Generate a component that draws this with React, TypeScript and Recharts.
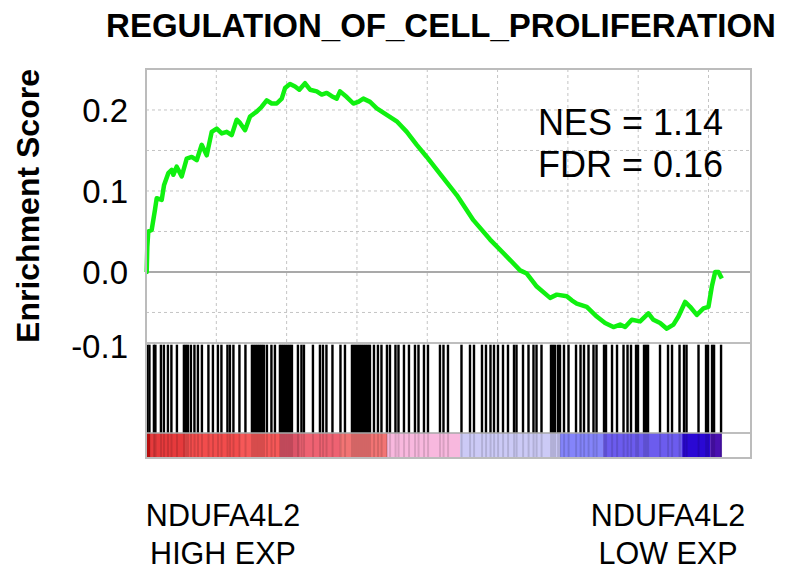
import {
  LineChart,
  Line,
  ComposedChart,
  Bar,
  XAxis,
  YAxis,
  CartesianGrid,
  ReferenceLine,
  ReferenceArea
} from 'recharts';

// running enrichment score (gene rank -> ES)
const esRank = [
  0, 20, 37, 65, 162, 256, 304, 447, 512, 634, 731, 777, 873, 1016, 1158, 1300, 1442, 1585, 1727, 1869,
  2011, 2154, 2296, 2438, 2580, 2674, 2817, 2959, 3149, 3292, 3434, 3576, 3718, 3861, 3955, 4097, 4239,
  4361, 4524, 4666, 4856, 4999, 5141, 5283, 5425, 5519, 5710, 5898, 6040, 6182, 6373, 6564, 6848, 7132,
  7417, 7701, 7986, 8364, 8839, 9312, 9787, 10262, 10640, 10831, 11115, 11494, 11685, 11969, 12111,
  12253, 12538, 12822, 13058, 13295, 13485, 13628, 13818, 14054, 14290, 14433, 14623, 14814, 15002,
  15144, 15335, 15477, 15667, 15856, 15998, 16094, 16189, 16283, 16379
];
const esScore = [
  0, 0.0, 0.031, 0.05, 0.052, 0.077, 0.091, 0.089, 0.107, 0.122, 0.126, 0.12, 0.13, 0.118, 0.14, 0.142,
  0.138, 0.157, 0.144, 0.173, 0.177, 0.171, 0.173, 0.169, 0.188, 0.184, 0.175, 0.192, 0.198, 0.204,
  0.212, 0.208, 0.208, 0.214, 0.227, 0.232, 0.229, 0.225, 0.233, 0.225, 0.223, 0.219, 0.221, 0.217,
  0.214, 0.223, 0.216, 0.208, 0.21, 0.214, 0.21, 0.202, 0.194, 0.186, 0.173, 0.157, 0.142, 0.121,
  0.095, 0.064, 0.04, 0.019, 0.002, -0.002, -0.018, -0.032, -0.028, -0.03, -0.035, -0.039, -0.043,
  -0.055, -0.063, -0.068, -0.065, -0.068, -0.059, -0.061, -0.051, -0.059, -0.063, -0.07, -0.065,
  -0.055, -0.037, -0.043, -0.053, -0.045, -0.043, -0.018, 0.0, 0.0, -0.008
];

// positions of the gene set members in the ranked list
const hitRanks = [
  43, 100, 228, 270, 427, 512, 626, 725, 882, 1081, 1138, 1195, 1280, 1380, 1479, 1593, 1778, 1906,
  2048, 2148, 2319, 2390, 2489, 2660, 2831, 3016, 3073, 3130, 3186, 3243, 3300, 3357, 3442, 3570,
  3670, 3812, 3869, 3926, 3983, 4040, 4097, 4154, 4324, 4424, 4495, 4751, 4950, 5036, 5135, 5306,
  5534, 5662, 5861, 5918, 5975, 6032, 6089, 6145, 6202, 6259, 6316, 6373, 6487, 6600, 6700, 6856,
  6942, 7098, 7184, 7340, 7482, 7653, 7753, 7909, 8023, 8364, 8464, 8592, 8976, 9218, 9332, 9559,
  9673, 9801, 9901, 10014, 10157, 10299, 10470, 10541, 10726, 10882, 11024, 11110, 11252, 11522,
  11579, 11636, 11721, 11778, 11892, 12020, 12234, 12362, 12461, 12589, 12731, 12817, 13030, 13087,
  13258, 13400, 13585, 13699, 13798, 13941, 13997, 14168, 14225, 14282, 14623, 14851, 14965, 15178,
  15306, 15377, 15718, 15932, 15989, 16103, 16160, 16359
];

// ranked metric colour strip
const heatFrom = [0, 114, 1110, 2674, 3812, 4381, 5519, 6856, 8933, 11778, 13002, 15249, 16046];
const heatTo = [114, 1110, 2674, 3812, 4381, 5519, 6856, 8933, 11778, 13002, 15249, 16046, 16379];
const heatColors = [
  '#d01010', '#e63a3c', '#f24c4c', '#f65858', '#dc5468', '#ee6272', '#f27474', '#f8b8de',
  '#cccaf6', '#8484fa', '#6c5cee', '#2a08d4', '#4a10b0'
];

const yTicks = [-0.1, 0, 0.1, 0.2];
const gridY = [-0.05, 0.05, 0.1, 0.15, 0.2];
const gridX = [2000, 4000, 6000, 8000, 10000, 12000, 14000, 16000];

const FONT = '"Liberation Sans", Arial, sans-serif';
const X_DOMAIN: [number, number] = [0, 17180];
const STRIP_TOP = 0.21;

// draw each hit as a thin bar centred on its rank
const HitBar = (props: any) => {
  const { x, y, width, height, fill, fillOpacity } = props;
  const cx = x + width / 2;
  return <rect x={cx - 1.2} y={y} width={2.4} height={height} fill={fill} fillOpacity={fillOpacity} />;
};

export default function App() {
  const esData = esRank.map((r, i) => ({ rank: r, es: esScore[i] }));
  const hitData = hitRanks.map((r) => ({ rank: r, hit: [STRIP_TOP, 0.985] }));

  const renderTick = (props: any) => {
    const { x, y, payload } = props;
    return (
      <text x={x} y={Math.min(y, 346)} dy="0.36em" textAnchor="end" fontSize={33} fill="#000" fontFamily={FONT}>
        {payload.value.toFixed(1)}
      </text>
    );
  };

  return (
    <div style={{ position: 'absolute', left: 0, top: 0, width: 785, height: 571, background: '#fff', fontFamily: FONT }}>
      {/* enrichment score panel */}
      <div style={{ position: 'absolute', left: 0, top: 0 }}>
        <LineChart width={785} height={400} data={esData} margin={{ top: 69, right: 35, bottom: 57, left: 0 }}>
          <CartesianGrid
            stroke="#c4c4c4"
            strokeDasharray="3 3"
            horizontalValues={gridY}
            verticalValues={gridX}
          />
          <XAxis dataKey="rank" type="number" domain={X_DOMAIN} hide />
          <YAxis
            type="number"
            domain={[-0.0877, 0.2506]}
            allowDataOverflow
            ticks={yTicks}
            interval={0}
            width={146}
            axisLine={false}
            tickLine={false}
            tickMargin={12}
            tick={renderTick}
            label={{
              value: 'Enrichment Score',
              angle: -90,
              position: 'center',
              dx: -45,
              style: { fontSize: 32, fontWeight: 'bold', fill: '#000', fontFamily: FONT }
            }}
          />
          <ReferenceLine y={0} stroke="#8c8c8c" strokeWidth={1.5} />
          <Line
            type="linear"
            dataKey="es"
            stroke="#10f010"
            strokeWidth={4.5}
            strokeLinejoin="round"
            dot={false}
            isAnimationActive={false}
          />
        </LineChart>
      </div>

      {/* hits barcode + ranked list colour strip */}
      <div style={{ position: 'absolute', left: 0, top: 0 }}>
        <ComposedChart
          width={785}
          height={480}
          data={hitData}
          margin={{ top: 343, right: 35, bottom: 23, left: 146 }}
        >
          <XAxis dataKey="rank" type="number" domain={X_DOMAIN} allowDataOverflow hide />
          <YAxis type="number" domain={[0, 1]} allowDataOverflow hide />
          {heatFrom.map((f, i) => (
            <ReferenceArea
              key={'h' + i}
              x1={f}
              x2={heatTo[i]}
              y1={0}
              y2={STRIP_TOP}
              fill={heatColors[i]}
              fillOpacity={1}
              stroke="none"
            />
          ))}
          {hitRanks.map((h, i) => (
            <ReferenceLine
              key={'t' + i}
              segment={[{ x: h, y: 0 }, { x: h, y: STRIP_TOP }]}
              stroke="#000"
              strokeOpacity={0.13}
              strokeWidth={2}
            />
          ))}
          <Bar dataKey="hit" fill="#000" shape={HitBar} isAnimationActive={false} />
          <ReferenceLine y={STRIP_TOP} stroke="#a8a8a8" strokeWidth={1.5} />
          <ReferenceLine y={1} stroke="#a8a8a8" strokeWidth={1.5} />
        </ComposedChart>
      </div>

      {/* frame */}
      <div
        style={{
          position: 'absolute',
          left: 145,
          top: 68,
          width: 607,
          height: 391,
          border: '2px solid #bcbcbc',
          boxSizing: 'border-box',
          pointerEvents: 'none'
        }}
      />

      {/* texts */}
      <svg width={785} height={571} style={{ position: 'absolute', left: 0, top: 0, pointerEvents: 'none' }}>
        <g fontFamily={FONT} fill="#000">
          <text x={441} y={37} fontSize={33} fontWeight="bold" textAnchor="middle">REGULATION_OF_CELL_PROLIFERATION</text>
          <text x={723} y={135} fontSize={36} textAnchor="end">NES = 1.14</text>
          <text x={723} y={177} fontSize={36} textAnchor="end">FDR = 0.16</text>
          <text x={223} y={526} fontSize={30.5} textAnchor="middle">NDUFA4L2</text>
          <text x={223} y={564} fontSize={30.5} textAnchor="middle">HIGH EXP</text>
          <text x={668} y={526} fontSize={30.5} textAnchor="middle">NDUFA4L2</text>
          <text x={668} y={564} fontSize={30.5} textAnchor="middle">LOW EXP</text>
        </g>
      </svg>
    </div>
  );
}
